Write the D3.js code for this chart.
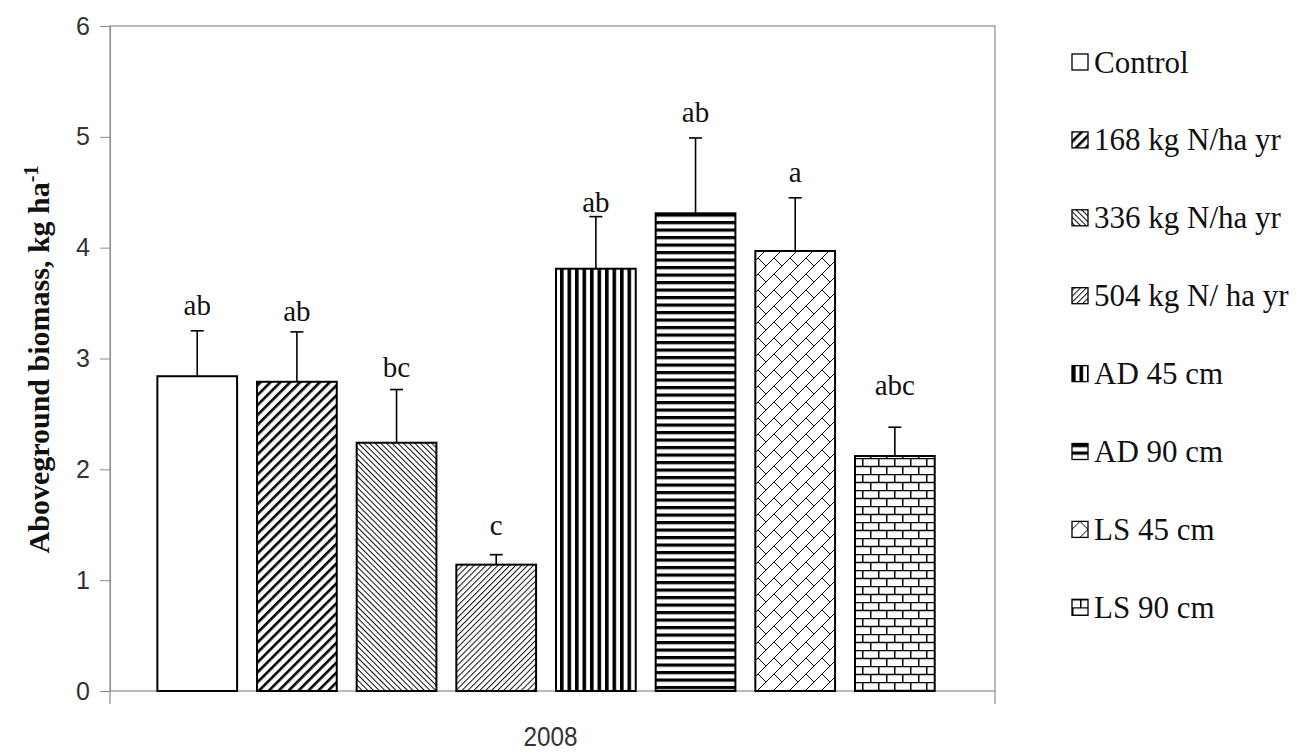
<!DOCTYPE html>
<html>
<head>
<meta charset="utf-8">
<script src="https://cdn.jsdelivr.net/npm/d3@7"></script>
<style>
  body { margin: 0; background: #fff; }
</style>
</head>
<body>
<div id="chart"></div>
<script>
// chart data
var categories = ["Control", "168 kg N/ha yr", "336 kg N/ha yr", "504 kg N/ ha yr",
                  "AD 45 cm", "AD 90 cm", "LS 45 cm", "LS 90 cm"];
var means = [2.84, 2.79, 2.24, 1.14, 3.81, 4.31, 3.97, 2.12];
var stdErr = [0.41, 0.45, 0.48, 0.09, 0.47, 0.68, 0.48, 0.26];
var letters = ["ab", "ab", "bc", "c", "ab", "ab", "a", "abc"];
var letterAt = [3.39, 3.34, 2.83, 1.41, 4.32, 5.13, 4.59, 2.67];
var patterns = ["none", "thickUp", "thinDown", "thinUp", "vert", "horiz", "diagBrick", "brick"];
var yTicks = [0, 1, 2, 3, 4, 5, 6];
var groupLabel = "2008";

var W = 1300, H = 754;
var margin = {top: 26, right: 305, bottom: 63, left: 110},
    width = W - margin.left - margin.right,
    height = H - margin.top - margin.bottom;

var serif = "'Liberation Serif', 'Times New Roman', serif";
var sans = "'Liberation Sans', Arial, sans-serif";

var svg = d3.select("#chart")
  .append("svg")
    .attr("width", W)
    .attr("height", H);

// fill patterns
var defs = svg.append("defs");
function pat(id, size, rot) {
  var p = defs.append("pattern")
    .attr("id", id)
    .attr("patternUnits", "userSpaceOnUse")
    .attr("width", size[0]).attr("height", size[1]);
  if (rot) p.attr("patternTransform", "rotate(" + rot + ")");
  p.append("rect").attr("width", size[0]).attr("height", size[1]).attr("fill", "#fff");
  return p;
}
// thick "/" stripes
pat("thickUp", [7, 7], 45).append("rect")
  .attr("x", 0).attr("width", 2.6).attr("height", 7).attr("fill", "#000");
// thin "\" lines
pat("thinDown", [4, 4], -45).append("rect")
  .attr("x", 0).attr("width", 1).attr("height", 4).attr("fill", "#111");
// thin "/" lines
pat("thinUp", [4.2, 4.2], 45).append("rect")
  .attr("x", 0).attr("width", 1).attr("height", 4.2).attr("fill", "#111");
// vertical stripes
pat("vert", [7.5, 7.5]).append("rect")
  .attr("x", 0).attr("width", 3.6).attr("height", 7.5).attr("fill", "#000");
// horizontal stripes
pat("horiz", [7.5, 7.5]).append("rect")
  .attr("y", 0).attr("width", 7.5).attr("height", 3.2).attr("fill", "#000");
// diagonal brick
var db = pat("diagBrick", [16, 16]);
db.append("path").attr("d", "M0,16L16,0M-4,4L4,-4M12,20L20,12M8,8L16,16")
  .attr("stroke", "#000").attr("stroke-width", 1).attr("fill", "none");
// horizontal brick
var hb = pat("brick", [16, 16]);
hb.append("path").attr("d", "M0,0.5H16M0,8.5H16M0.75,0V8.5M8.75,8.5V16")
  .attr("stroke", "#000").attr("stroke-width", 1.5).attr("fill", "none");

function fillOf(i) {
  return patterns[i] === "none" ? "#fff" : "url(#" + patterns[i] + ")";
}

var g = svg.append("g")
  .attr("transform", "translate(" + margin.left + "," + margin.top + ")");

var x = d3.scaleBand()
  .domain(categories)
  .range([0, width])
  .paddingInner(0.2)
  .paddingOuter(0.54)
  .align(0.44);

var y = d3.scaleLinear()
  .domain([0, 6])
  .range([height, 0]);

// plot frame
g.append("rect")
  .attr("width", width).attr("height", height)
  .attr("fill", "none").attr("stroke", "#8c8c8c").attr("stroke-width", 1.2);

// y axis
var yAxis = g.append("g")
  .call(d3.axisLeft(y).tickValues(yTicks).tickSize(10).tickPadding(10).tickFormat(d3.format("d")));
yAxis.select(".domain").attr("stroke", "#8c8c8c");
yAxis.selectAll(".tick line").attr("stroke", "#8c8c8c");
yAxis.selectAll("text")
  .attr("font-family", sans)
  .attr("font-size", 25).attr("fill", "#333");

// x axis ticks at the frame edges
g.selectAll(".xtick")
  .data([0, width])
  .enter().append("line")
  .attr("x1", function(d) { return d; }).attr("x2", function(d) { return d; })
  .attr("y1", height).attr("y2", height + 13)
  .attr("stroke", "#8c8c8c").attr("stroke-width", 1.2);

g.append("text")
  .attr("transform", "translate(" + (width / 2 - 2) + "," + (height + 55) + ") scale(0.9,1)")
  .attr("text-anchor", "middle")
  .attr("font-family", sans)
  .attr("font-size", 27).attr("fill", "#333")
  .text(groupLabel);

// y title
var yt = svg.append("text")
  .attr("transform", "translate(49," + (margin.top + height / 2 + 1) + ") rotate(-90)")
  .attr("text-anchor", "middle")
  .attr("font-family", serif)
  .attr("font-weight", "bold")
  .attr("font-size", 30)
  .attr("fill", "#111");
yt.append("tspan").text("Aboveground biomass, kg ha");
yt.append("tspan").attr("dy", -11).attr("font-size", 20).text("-1");

// bars
var bars = g.append("g").selectAll("g")
  .data(categories)
  .enter().append("g");

bars.append("rect")
  .attr("x", function(d) { return x(d); })
  .attr("width", x.bandwidth())
  .attr("y", function(d, i) { return y(means[i]); })
  .attr("height", function(d, i) { return y(0) - y(means[i]); })
  .attr("fill", function(d, i) { return fillOf(i); })
  .attr("stroke", "#000").attr("stroke-width", 2);

// error bars (upper half)
bars.append("line")
  .attr("x1", function(d) { return x(d) + x.bandwidth() / 2; })
  .attr("x2", function(d) { return x(d) + x.bandwidth() / 2; })
  .attr("y1", function(d, i) { return y(means[i]); })
  .attr("y2", function(d, i) { return y(means[i] + stdErr[i]); })
  .attr("stroke", "#000").attr("stroke-width", 1.6);
bars.append("line")
  .attr("x1", function(d) { return x(d) + x.bandwidth() / 2 - 6.5; })
  .attr("x2", function(d) { return x(d) + x.bandwidth() / 2 + 6.5; })
  .attr("y1", function(d, i) { return y(means[i] + stdErr[i]); })
  .attr("y2", function(d, i) { return y(means[i] + stdErr[i]); })
  .attr("stroke", "#000").attr("stroke-width", 1.6);

// significance letters
bars.append("text")
  .attr("x", function(d) { return x(d) + x.bandwidth() / 2; })
  .attr("y", function(d, i) { return y(letterAt[i]); })
  .attr("text-anchor", "middle")
  .attr("font-family", serif)
  .attr("font-size", 29).attr("fill", "#111")
  .text(function(d, i) { return letters[i]; });

// legend
var legend = svg.append("g")
  .attr("transform", "translate(1072,62)");
var item = legend.selectAll("g")
  .data(categories)
  .enter().append("g")
  .attr("transform", function(d, i) { return "translate(0," + (i * 77.9) + ")"; });
item.append("rect")
  .attr("x", 0).attr("y", -8)
  .attr("width", 16).attr("height", 16)
  .attr("fill", function(d, i) { return fillOf(i); })
  .attr("stroke", "#000").attr("stroke-width", 1.3);
item.append("text")
  .attr("x", 22).attr("y", 10.5)
  .attr("font-family", serif)
  .attr("font-size", 31).attr("fill", "#111")
  .text(function(d) { return d; });
</script>
</body>
</html>
